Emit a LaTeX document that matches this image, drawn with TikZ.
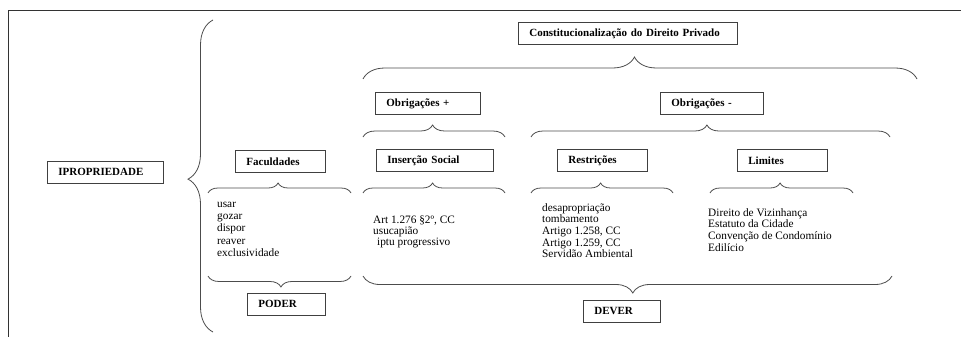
\documentclass[tikz,border=0pt]{standalone}
\usepackage{fontspec}
\setmainfont{Liberation Serif}
\usetikzlibrary{decorations.pathreplacing}

\begin{document}
\begin{tikzpicture}[x=1pt,y=-1pt,
  every node/.style={font=\fontsize{11.3}{11.7}\selectfont},
  caixa/.style={draw=black!75,line width=0.8pt,anchor=north west,inner xsep=11pt,inner ysep=0pt,
    minimum height=22pt,align=left,font=\fontsize{11}{11.7}\selectfont\bfseries},
  chave/.style={draw=black!70,line width=0.8pt,decorate,decoration={brace,amplitude=#1,aspect=0.49}},
  lista/.style={anchor=north west,align=left,inner sep=0pt}]

\useasboundingbox (0,0) rectangle (961,337);
\draw[black!80,line width=0.9pt] (8,337) -- (8,10) -- (961,10);

% caixas
\node[caixa,text width=94pt] (prop) at (47,161) {IPROPRIEDADE};
\node[caixa,text width=68pt] (fac) at (235,150) {Faculdades};
\node[caixa,text width=56pt] (poder) at (247,293) {PODER};
\node[caixa,text width=197pt] (const) at (518,22) {Constitucionaliza\c{c}\~ao do Direito Privado};
\node[caixa,text width=83pt] (obmais) at (375,92) {Obriga\c{c}\~oes +};
\node[caixa,text width=81pt] (obmenos) at (660,92) {Obriga\c{c}\~oes -};
\node[caixa,text width=95pt] (insercao) at (376,149) {Inser\c{c}\~ao Social};
\node[caixa,text width=68pt] (restr) at (557,149) {Restri\c{c}\~oes};
\node[caixa,text width=68pt] (limites) at (737,149) {Limites};
\node[caixa,text width=55pt] (dever) at (583,300) {DEVER};

% listas
\node[lista,font=\fontsize{11.3}{12.2}\selectfont] (usos) at (217,202) {usar\\gozar\\dispor\\reaver\\exclusividade};
\node[lista,font=\fontsize{11.3}{11}\selectfont] (social) at (373,216) {Art 1.276 \S2º, CC\\usucapião\\\hspace{4pt}iptu progressivo};
\node[lista] (restricoes) at (542,203) {desapropriação\\tombamento\\Artigo 1.258, CC\\Artigo 1.259, CC\\Servidão Ambiental};
\node[lista] (limitacoes) at (708,208) {Direito de Vizinhança\\Estatuto da Cidade\\Convenção de Condomínio\\Edilício};

% chaves
\coordinate (p1) at (213,332); \coordinate (p2) at (213,20);
\coordinate (c1) at (363,79);  \coordinate (c2) at (917,79);
\coordinate (m1) at (363,137); \coordinate (m2) at (505,137);
\coordinate (n1) at (531,137); \coordinate (n2) at (890,137);
\coordinate (f1) at (208,193); \coordinate (f2) at (351,193);
\coordinate (i1) at (363,193); \coordinate (i2) at (505,193);
\coordinate (r1) at (531,193); \coordinate (r2) at (673,193);
\coordinate (l1) at (710,193); \coordinate (l2) at (853,193);
\coordinate (d1) at (208,276); \coordinate (d2) at (351,276);
\coordinate (v1) at (363,276); \coordinate (v2) at (892,276);

\draw[chave=25pt] (p1) -- (p2);
\draw[chave=22pt] (c1) -- (c2);
\draw[chave=12pt] (m1) -- (m2);
\draw[chave=12pt] (n1) -- (n2);
\draw[chave=10pt] (f1) -- (f2);
\draw[chave=10pt] (i1) -- (i2);
\draw[chave=10pt] (r1) -- (r2);
\draw[chave=10pt] (l1) -- (l2);
\draw[chave=11pt] (d2) -- (d1);
\draw[chave=17pt] (v2) -- (v1);

\end{tikzpicture}
\end{document}
